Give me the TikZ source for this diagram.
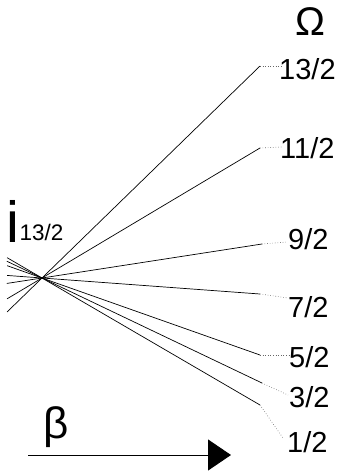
\documentclass[tikz,border=0pt]{standalone}
\usepackage{fontspec}
\setmainfont{Liberation Sans}
\usetikzlibrary{calc,arrows.meta}
\begin{document}
\begin{tikzpicture}[x=1pt,y=-1pt,
  fanline/.style={line width=0.7pt,black},
  dotline/.style={line width=0.6pt,black!60,dash pattern=on 0.6pt off 2pt},
  lab/.style={anchor=base west,inner sep=0pt,font=\fontsize{29}{29}\selectfont},
  betaarrow/.style={line width=1pt,-{Triangle[length=23pt,width=31pt]}}]
\useasboundingbox (0,0) rectangle (339,474);
\coordinate (C) at (42,278);
\coordinate (E1) at (260,66);
\coordinate (E2) at (260,148);
\coordinate (E3) at (262,244);
\coordinate (E4) at (260,294);
\coordinate (E5) at (260,355);
\coordinate (E6) at (262,383);
\coordinate (E7) at (260,405);
\coordinate (D1) at (282,66);
\coordinate (D2) at (282,147);
\coordinate (D3) at (287,242);
\coordinate (D4) at (288,298);
\coordinate (D5) at (290,355);
\coordinate (D6) at (288,395);
\coordinate (D7) at (283,438);
\foreach \i in {1,...,7}{
  \coordinate (L\i) at ($(C)!-0.16!(E\i)$);
  \draw[fanline] (L\i) -- (E\i);
  \draw[dotline] (E\i) -- (D\i);
}
\node[lab] (t1) at (279,79) {13/2};
\node[lab] (t2) at (280,158) {11/2};
\node[lab] (t3) at (288,249) {9/2};
\node[lab] (t4) at (288,317) {7/2};
\node[lab] (t5) at (289,367) {5/2};
\node[lab] (t6) at (289,407) {3/2};
\node[lab] (t7) at (287,452) {1/2};
\node[anchor=base,inner sep=0pt,font=\fontsize{40}{40}\selectfont] (omega) at (310,35) {Ω};
\node[anchor=base west,inner sep=0pt,font=\fontsize{58}{58}\selectfont] (ilab) at (6,242) {i};
\node[anchor=base west,inner sep=0pt,font=\fontsize{22.5}{22.5}\selectfont] (isub) at (19.5,240) {13/2};
\node[anchor=base,inner sep=0pt,font=\fontsize{44}{44}\selectfont] (beta) at (56.5,438) {β};
\coordinate (a0) at (28,455);
\coordinate (a1) at (231,455);
\draw[betaarrow] (a0) -- (a1);
\end{tikzpicture}
\end{document}
